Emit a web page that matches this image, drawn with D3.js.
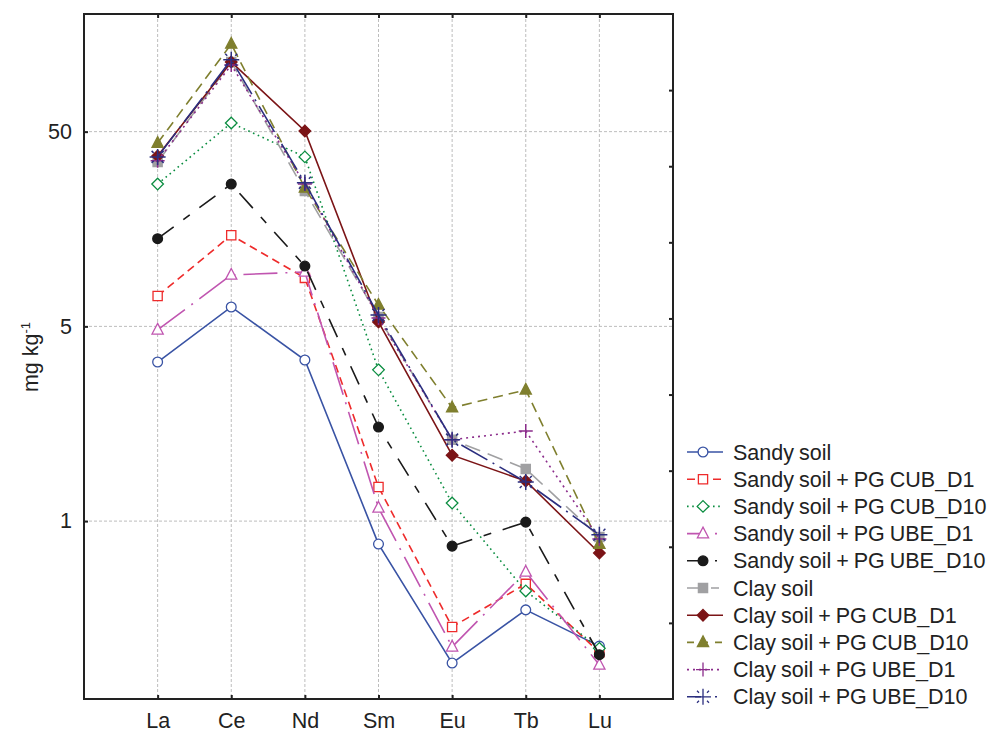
<!DOCTYPE html>
<html>
<head>
<meta charset="utf-8">
<script src="https://cdn.jsdelivr.net/npm/d3@7"></script>
<style>
  body { margin: 0; background: #fff; }
  text { font-family: "Liberation Sans", Arial, sans-serif; fill: #222; }
</style>
</head>
<body>
<div id="chart"></div>
<script>
// categories and values (mg kg-1)
const elements = ['La', 'Ce', 'Nd', 'Sm', 'Eu', 'Tb', 'Lu']
const seriesNames = [
  'Sandy soil', 'Sandy soil + PG CUB_D1', 'Sandy soil + PG CUB_D10',
  'Sandy soil + PG UBE_D1', 'Sandy soil + PG UBE_D10', 'Clay soil',
  'Clay soil + PG CUB_D1', 'Clay soil + PG CUB_D10', 'Clay soil + PG UBE_D1',
  'Clay soil + PG UBE_D10'
]
const sandySoil      = [3.28, 6.29, 3.36, 0.381, 0.0933, 0.175, 0.114]
const sandyCubD1     = [7.16, 14.7, 8.87, 0.748, 0.143, 0.238, 0.106]
const sandyCubD10    = [26.9, 55.4, 37.1, 2.99, 0.619, 0.219, 0.111]
const sandyUbeD1     = [4.80, 9.18, 9.51, 0.584, 0.113, 0.274, 0.0912]
const sandyUbeD10    = [14.1, 26.9, 10.2, 1.52, 0.372, 0.494, 0.103]
const claySoil       = [34.9, 114, 24.8, 5.59, 1.31, 0.927, 0.414]
const clayCubD1      = [37.5, 114, 50.4, 5.27, 1.09, 0.803, 0.343]
const clayCubD10     = [43.7, 141, 25.7, 6.44, 1.91, 2.36, 0.381]
const clayUbeD1      = [35.4, 110, 26.9, 5.52, 1.31, 1.45, 0.405]
const clayUbeD10     = [37.1, 117, 27.3, 5.72, 1.31, 0.794, 0.425]
const seriesValues = [sandySoil, sandyCubD1, sandyCubD10, sandyUbeD1, sandyUbeD10,
  claySoil, clayCubD1, clayCubD10, clayUbeD1, clayUbeD10]
const yTickValues = [0.5, 5, 50]
const yDomain = [0.061, 201]

const styles = [
  {color: '#3953a4', dash: null,          legendDash: null,          marker: 'circle',   fill: '#fff'},
  {color: '#ee2b2b', dash: '8,5',         legendDash: '8,5',         marker: 'square',   fill: '#fff'},
  {color: '#0a8d40', dash: '1.6,3.6',     legendDash: '1.6,3.6',     marker: 'diamond',  fill: '#fff'},
  {color: '#c055b0', dash: '34,8,2,8',    legendDash: '14,14,2,10',  marker: 'triangle', fill: '#fff'},
  {color: '#1a1a1a', dash: '20,12,8,12',  legendDash: '14,14,2,10',  marker: 'circle',   fill: '#1a1a1a'},
  {color: '#a0a0a2', dash: '16,8',        legendDash: '14,10,8,10',  marker: 'square',   fill: '#a0a0a2'},
  {color: '#7b1416', dash: null,          legendDash: null,          marker: 'diamond',  fill: '#7b1416'},
  {color: '#7f7f2e', dash: '10,6',        legendDash: '7,7',         marker: 'triangle', fill: '#7f7f2e'},
  {color: '#8b2c8b', dash: '2,4',         legendDash: '2,4',         marker: 'plus',     fill: 'none'},
  {color: '#2b2e7f', dash: '30,6,2,6',    legendDash: '14,14,2,10',  marker: 'star',     fill: 'none'}
]

const margin = {top: 14, left: 84}
const width = 589, height = 685

const svg = d3.select('#chart').append('svg')
  .attr('width', 995)
  .attr('height', 732)
const g = svg.append('g')
  .attr('transform', `translate(${margin.left}, ${margin.top})`)

const x = d3.scalePoint().domain(elements).range([0, width]).padding(1)
const y = d3.scaleLog().domain(yDomain).range([height, 0])
const yRight = d3.scaleLinear().domain([0, 9]).range([height, 0])

// grid
g.selectAll('.vgrid')
  .data(elements)
  .enter().append('line')
  .attr('x1', d => x(d)).attr('x2', d => x(d))
  .attr('y1', 0).attr('y2', height)
  .attr('stroke', '#bdbdbd').attr('stroke-width', 1).attr('stroke-dasharray', '3,2')
g.selectAll('.hgrid')
  .data(yTickValues)
  .enter().append('line')
  .attr('x1', 0).attr('x2', width)
  .attr('y1', d => y(d)).attr('y2', d => y(d))
  .attr('stroke', '#bdbdbd').attr('stroke-width', 1).attr('stroke-dasharray', '3,2')

// axes (ticks pointing inward)
const fmt = d3.format('.0f')
const yAxis = g.append('g')
  .call(d3.axisLeft(y).tickValues(yTickValues).tickFormat(fmt).tickSizeInner(-4).tickSizeOuter(0).tickPadding(12))
const xAxis = g.append('g')
  .attr('transform', `translate(0, ${height})`)
  .call(d3.axisBottom(x).tickSizeInner(-4).tickSizeOuter(0).tickPadding(14))
const xTop = g.append('g')
  .call(d3.axisTop(x).tickSizeInner(-4).tickSizeOuter(0).tickFormat(''))
const yRightAxis = g.append('g')
  .attr('transform', `translate(${width}, 0)`)
  .call(d3.axisRight(yRight).tickValues(d3.range(1, 9)).tickSizeInner(-4).tickSizeOuter(0).tickFormat(''))
;[yAxis, xAxis, xTop, yRightAxis].forEach(a => {
  a.select('.domain').remove()
  a.selectAll('line').attr('stroke', '#222').attr('stroke-width', 2)
  a.selectAll('text').style('font-size', '21.5px').attr('fill', '#222')
    .style('font-family', '"Liberation Sans", Arial, sans-serif')
})
g.append('rect')
  .attr('width', width).attr('height', height)
  .attr('fill', 'none').attr('stroke', '#222').attr('stroke-width', 2)

// y title
const title = svg.append('text')
  .attr('transform', 'translate(38, 357) rotate(-90)')
  .attr('text-anchor', 'middle')
  .style('font-size', '21.5px')
title.append('tspan').text('mg kg')
title.append('tspan').attr('dy', -8).style('font-size', '13px').text('-1')

// markers
function markerPath(type) {
  switch (type) {
    case 'circle': return d3.symbol(d3.symbolCircle, 75)()
    case 'square': return d3.symbol(d3.symbolSquare, 85)()
    case 'diamond': return 'M0,-5.8L5.8,0L0,5.8L-5.8,0Z'
    case 'triangle': return 'M0,-6.5L5.6,4.2L-5.6,4.2Z'
    case 'plus': return 'M-7,0H7M0,-7V7'
    case 'star': return 'M-8,0H8M0,-8V8M-6,-6L-4,-4M6,-6L4,-4M-6,6L-4,4M6,6L4,4'
  }
}

const line = d3.line().x((d, i) => x(elements[i])).y(d => y(d))

seriesValues.forEach((vals, si) => {
  const st = styles[si]
  const sg = g.append('g')
  sg.append('path')
    .datum(vals)
    .attr('d', line)
    .attr('fill', 'none')
    .attr('stroke', st.color)
    .attr('stroke-width', 1.6)
    .attr('stroke-dasharray', st.dash)
  sg.selectAll('.pt')
    .data(vals)
    .enter().append('path')
    .attr('transform', (d, i) => `translate(${x(elements[i])}, ${y(d)})`)
    .attr('d', markerPath(st.marker))
    .attr('fill', st.fill)
    .attr('stroke', st.color)
    .attr('stroke-width', st.marker === 'plus' || st.marker === 'star' ? 1.5 : 1.3)
})

// legend
const legend = svg.append('g').attr('transform', 'translate(687, 452)')
const rows = legend.selectAll('.row')
  .data(seriesNames)
  .enter().append('g')
  .attr('transform', (d, i) => `translate(0, ${i * 27.2})`)
rows.append('line')
  .attr('x1', 0).attr('x2', 36).attr('y1', 0).attr('y2', 0)
  .attr('stroke', (d, i) => styles[i].color)
  .attr('stroke-width', 1.6)
  .attr('stroke-dasharray', (d, i) => styles[i].legendDash)
rows.append('path')
  .attr('transform', 'translate(16, 0)')
  .attr('d', (d, i) => markerPath(styles[i].marker))
  .attr('fill', (d, i) => styles[i].fill)
  .attr('stroke', (d, i) => styles[i].color)
  .attr('stroke-width', 1.3)
rows.append('text')
  .attr('x', 46)
  .attr('y', 7.5)
  .style('font-size', '21.5px')
  .style('word-spacing', '-1px')
  .text(d => d)
</script>
</body>
</html>
